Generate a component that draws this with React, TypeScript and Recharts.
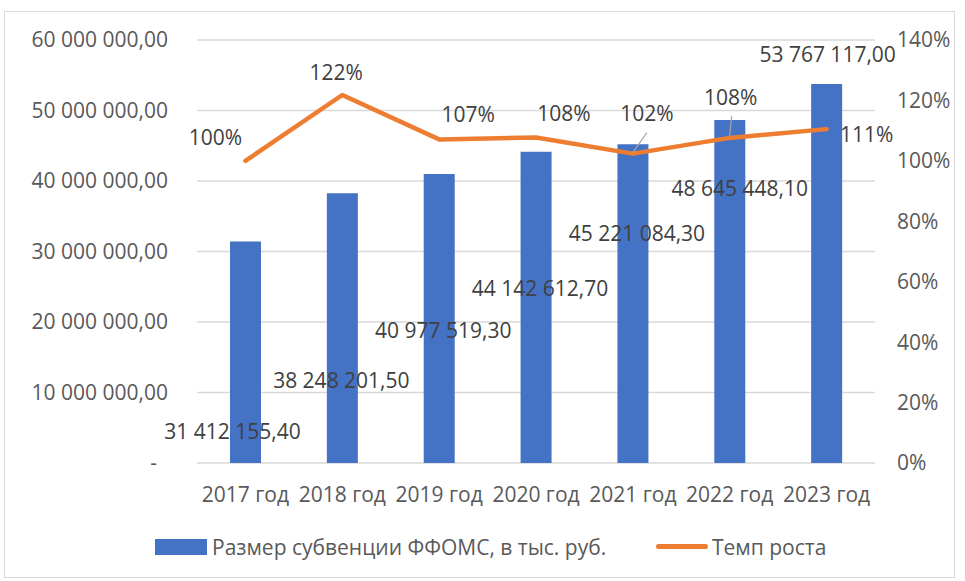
import React from 'react';
import { ComposedChart, Bar, Line, XAxis, YAxis, CartesianGrid, LabelList } from 'recharts';

const years = ['2017 год', '2018 год', '2019 год', '2020 год', '2021 год', '2022 год', '2023 год'];
const subsidy = [31412155.4, 38248201.5, 40977519.3, 44142612.7, 45221084.3, 48645448.1, 53767117.0];
const growth = [100, 121.8, 107.1, 107.7, 102.4, 107.6, 110.5];
const leftTicks = [0, 10000000, 20000000, 30000000, 40000000, 50000000, 60000000];
const rightTicks = [0, 20, 40, 60, 80, 100, 120, 140];

const data = years.map((year, i) => ({ year, subsidy: subsidy[i], growth: growth[i] }));

// label placement as in the source (Excel moved the labels by hand)
const barLabelShift = [[-13, 190], [-1, 187], [4, 157], [4, 137], [4, 89], [10, 69], [1, -29]];
const lineLabelShift = [[-30, -23], [-6, -22], [29, -25], [28, -24], [14, -40], [1, -40], [40, 6]];
const leaders: Record<number, number[]> = { 4: [14, -21, 0, -1], 5: [2, -22, 0, -2] };

const FONT = "'Open Sans', sans-serif";
const BLUE = '#4472C4';
const ORANGE = '#ED7D31';
const TEXT = '#595959';
const LABEL = '#404040';

const fmtMoney = (v: number) => {
  const [i, d] = v.toFixed(2).split('.');
  return i.replace(/\B(?=(\d{3})+(?!\d))/g, ' ') + ',' + d;
};

const getXY = (props: any) => {
  const vb = props.viewBox || {};
  return {
    x: props.x ?? vb.x,
    y: props.y ?? vb.y,
    width: props.width ?? vb.width ?? 0,
  };
};

const BarLabel = (props: any) => {
  const { x, y, width } = getXY(props);
  const idx = props.index ?? subsidy.indexOf(props.value);
  const [dx, dy] = barLabelShift[idx] || [0, 0];
  return (
    <text x={x + width / 2 + dx} y={y + dy} dy="0.35em" textAnchor="middle" fill={LABEL} fontSize={21} fontFamily={FONT}>
      {fmtMoney(props.value)}
    </text>
  );
};

const LineLabel = (props: any) => {
  const { x, y } = getXY(props);
  const idx = props.index ?? growth.indexOf(props.value);
  const [dx, dy] = lineLabelShift[idx] || [0, 0];
  const ld = leaders[idx];
  return (
    <g>
      {ld && <line x1={x + ld[0]} y1={y + ld[1]} x2={x + ld[2]} y2={y + ld[3]} stroke="#a6a6a6" strokeWidth={1.2} />}
      <text x={x + dx} y={y + dy} dy="0.35em" textAnchor="middle" fill={LABEL} fontSize={21} fontFamily={FONT}>
        {Math.round(props.value) + '%'}
      </text>
    </g>
  );
};

const LeftTick = (props: any) => {
  const { x, y, payload } = props;
  const zero = payload.value === 0;
  return (
    <text x={zero ? x - 11 : x} y={y} dy="0.35em" textAnchor="end" fill={TEXT} fontSize={21} fontFamily={FONT}>
      {zero ? '-' : fmtMoney(payload.value)}
    </text>
  );
};

export default function App() {
  return (
    <div
      style={{
        position: 'absolute',
        left: 4,
        top: 11,
        width: 951,
        height: 567,
        border: '1px solid #d9d9d9',
        boxSizing: 'border-box',
        background: '#fff',
        fontFamily: FONT,
      }}
    >
      <ComposedChart width={949} height={565} data={data} margin={{ top: 28, right: 0, bottom: 74, left: 0 }}>
        <CartesianGrid yAxisId="left" vertical={false} stroke="#d9d9d9" strokeWidth={1.3} />
        <XAxis
          dataKey="year"
          axisLine={false}
          tickLine={false}
          height={40}
          tickMargin={18}
          tick={{ fill: TEXT, fontSize: 21, fontFamily: FONT }}
        />
        <YAxis
          yAxisId="left"
          width={192}
          domain={[0, 60000000]}
          ticks={leftTicks}
          axisLine={false}
          tickLine={false}
          tickMargin={23}
          tick={<LeftTick />}
        />
        <YAxis
          yAxisId="right"
          orientation="right"
          width={79}
          domain={[0, 140]}
          ticks={rightTicks}
          axisLine={false}
          tickLine={false}
          tickMargin={16}
          tickFormatter={(v) => `${v}%`}
          tick={{ fill: TEXT, fontSize: 21, fontFamily: FONT, textAnchor: 'start' }}
        />
        <Bar yAxisId="left" dataKey="subsidy" fill={BLUE} barSize={31} isAnimationActive={false}>
          <LabelList dataKey="subsidy" content={<BarLabel />} />
        </Bar>
        <Line
          yAxisId="right"
          dataKey="growth"
          stroke={ORANGE}
          strokeWidth={4.5}
          strokeLinecap="round"
          strokeLinejoin="round"
          dot={false}
          activeDot={false}
          isAnimationActive={false}
        >
          <LabelList dataKey="growth" content={<LineLabel />} />
        </Line>
      </ComposedChart>
      <div style={{ position: 'absolute', left: 150, top: 527, width: 52, height: 16, background: BLUE }} />
      <div style={{ position: 'absolute', left: 207, top: 522, fontSize: 21, lineHeight: '26px', color: TEXT, whiteSpace: 'nowrap' }}>
        Размер субвенции ФФОМС, в тыс. руб.
      </div>
      <div style={{ position: 'absolute', left: 651, top: 532, width: 52, height: 5, borderRadius: 3, background: ORANGE }} />
      <div style={{ position: 'absolute', left: 707, top: 522, fontSize: 21, lineHeight: '26px', color: TEXT, whiteSpace: 'nowrap' }}>
        Темп роста
      </div>
    </div>
  );
}
